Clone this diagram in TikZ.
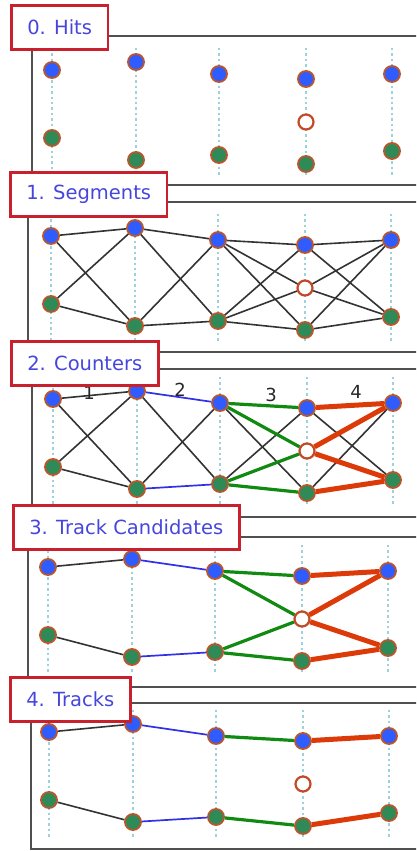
\documentclass[tikz,border=0pt]{standalone}
\usepackage{fontspec}
\setmainfont{DejaVu Sans}
\usetikzlibrary{positioning}
\definecolor{hitblue}{HTML}{2F5CFF}
\definecolor{hitgreen}{HTML}{2E8B57}
\definecolor{hitrim}{HTML}{B8562E}
\definecolor{layercol}{HTML}{9CD3DA}
\definecolor{boxred}{HTML}{C8202C}
\definecolor{labelblue}{HTML}{4646DC}
\definecolor{trkgreen}{HTML}{118A11}
\definecolor{trkred}{HTML}{DD3A0A}
\definecolor{trkblue}{HTML}{3030E8}
\definecolor{framegray}{HTML}{505050}
\tikzset{
  bluehit/.style={circle, draw=hitrim, line width=1.8pt, fill=hitblue, minimum size=16pt, inner sep=0pt},
  greenhit/.style={bluehit, fill=hitgreen},
  openhit/.style={bluehit, fill=white, draw=hitrim!85!red, line width=2.2pt, minimum size=15pt},
  layer/.style={draw=layercol, line width=2.6pt, dash pattern=on 2.4pt off 3pt},
  panel/.style={draw=framegray, line width=1.8pt},
  stage/.style={draw=boxred, line width=2.6pt, fill=white, text=labelblue, font=\fontsize{19.5}{22}\selectfont, inner xsep=16pt, inner ysep=0pt, minimum height=44pt, anchor=north west},
  seg/.style={draw=black!80, line width=1.6pt},
  segblue/.style={draw=trkblue, line width=1.7pt},
  seggreen/.style={draw=trkgreen, line width=3.2pt},
  segred/.style={draw=trkred, line width=5pt},
  counterlabel/.style={font=\fontsize{18}{20}\selectfont, text=black!85}
}
% hits of one panel: name prefix, base x, base y
\newcommand{\hitrow}[3]{%
  \foreach \dx in {0,84,167,254,340}
    \draw[layer] ({#2+\dx},{#3-22}) -- ({#2+\dx},{#3+106});
  \foreach \dx/\dy [count=\c] in {0/0,84/-8,167/4,254/9,340/4}
    \node[bluehit] (#1b\c) at ({#2+\dx},{#3+\dy}) {};
  \foreach \dx/\dy [count=\c] in {0/68,84/90,167/85,254/94,340/81}
    \node[greenhit] (#1g\c) at ({#2+\dx},{#3+\dy}) {};
  \node[openhit] (#1o) at ({#2+254},{#3+52}) {};
}
% segments between named hits
\newcommand{\joinhits}[3]{\foreach \a/\b in {#3} \draw[#2] (#1\a) -- (#1\b);}

\begin{document}
\begin{tikzpicture}[x=1pt, y=-1pt]
  \useasboundingbox (0,0) rectangle (416,851);
  \clip (0,0) rectangle (416,851);

  % 0. hits
  \draw[panel] (32,36) rectangle (420,185);
  \hitrow{p0}{52}{70}
  \node[stage] (hits) at (10,4) {0. Hits};

  % 1. segments
  \draw[panel] (28,202) rectangle (420,352);
  \hitrow{p1}{51}{236}
  \joinhits{p1}{seg}{b1/b2,b1/g2,g1/b2,g1/g2,b2/b3,b2/g3,g2/b3,g2/g3,
    b3/b4,b3/o,b3/g4,g3/b4,g3/o,g3/g4,b4/b5,b4/g5,o/b5,o/g5,g4/b5,g4/g5}
  \node[stage] (segments) at (9,171) {1. Segments};

  % 2. counters
  \draw[panel] (32,369) rectangle (420,517);
  \hitrow{p2}{53}{399}
  \joinhits{p2}{seg}{b1/b2,b1/g2,g1/b2,g1/g2,b2/g3,g2/b3,b3/g4,g3/b4,b4/g5,g4/b5}
  \joinhits{p2}{segblue}{b2/b3,g2/g3}
  \joinhits{p2}{seggreen}{b3/b4,b3/o,g3/o,g3/g4}
  \joinhits{p2}{segred}{b4/b5,o/b5,o/g5,g4/g5}
  \node[counterlabel] (cnt1) at (89,393) {1};
  \node[counterlabel] (cnt2) at (180,390) {2};
  \node[counterlabel] (cnt3) at (271,395) {3};
  \node[counterlabel] (cnt4) at (356,392) {4};
  \node[stage] (counters) at (10,340) {2. Counters};

  % 3. track candidates
  \draw[panel] (28,537) rectangle (420,687);
  \hitrow{p3}{48}{567}
  \joinhits{p3}{seg}{b1/b2,g1/g2}
  \joinhits{p3}{segblue}{b2/b3,g2/g3}
  \joinhits{p3}{seggreen}{b3/b4,b3/o,g3/o,g3/g4}
  \joinhits{p3}{segred}{b4/b5,o/b5,o/g5,g4/g5}
  \node[stage] (candidates) at (12,504) {3. Track Candidates};

  % 4. tracks
  \draw[panel] (31,703) rectangle (420,849);
  \hitrow{p4}{49}{732}
  \joinhits{p4}{seg}{b1/b2,g1/g2}
  \joinhits{p4}{segblue}{b2/b3,g2/g3}
  \joinhits{p4}{seggreen}{b3/b4,g3/g4}
  \joinhits{p4}{segred}{b4/b5,g4/g5}
  \node[stage] (tracks) at (9,676) {4. Tracks};
\end{tikzpicture}
\end{document}
